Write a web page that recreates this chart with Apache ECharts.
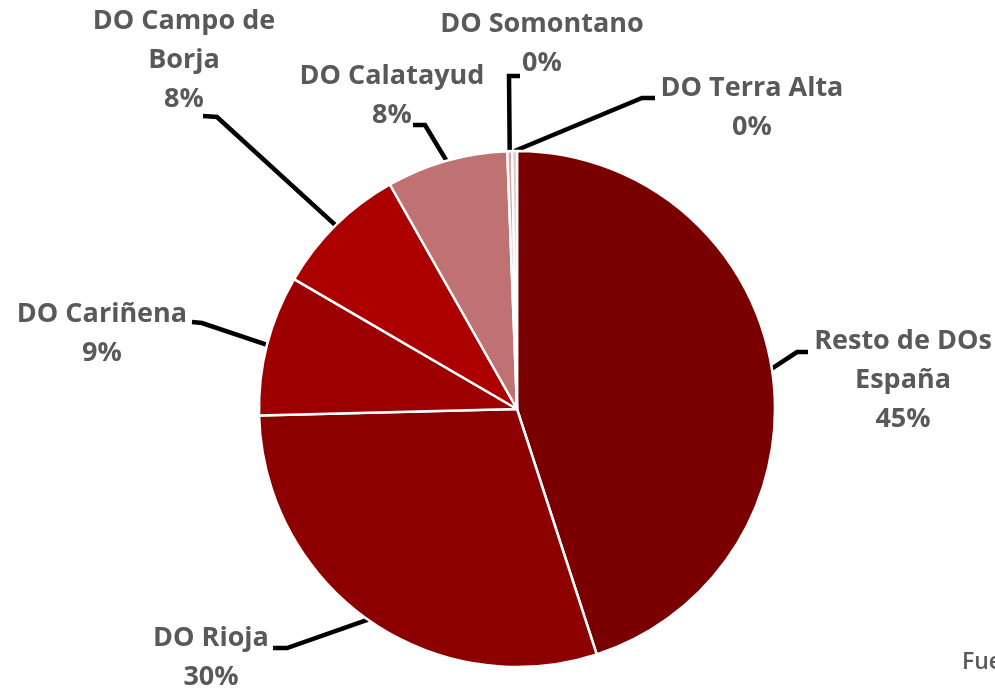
<!DOCTYPE html>
<html>
<head>
<meta charset="utf-8">
<script src="https://cdn.jsdelivr.net/npm/echarts@6/dist/echarts.min.js"></script>
<style>
  html, body { margin: 0; padding: 0; background: #fff; }
  #main { width: 995px; height: 693px; }
</style>
</head>
<body>
<div id="main"></div>
<script>
var categories = ['Resto de DOs\nEspaña', 'DO Rioja', 'DO Cariñena', 'DO Campo de\nBorja', 'DO Calatayud', 'DO Somontano', 'DO Terra Alta'];
var shares = [45.0, 29.6, 8.8, 8.4, 7.6, 0.3, 0.3];
var colors = ['#7a0000', '#8c0000', '#9c0000', '#ac0000', '#c07272', '#d9a3a3', '#e8c4c4'];

// where each label sits (centre x, top y) and the elbow + end of its leader
var labelSpots = [
  { x: 903, y: 322, line: [[797, 352], [808, 352]] },
  { x: 211, y: 619, line: [[287, 648], [273, 648]] },
  { x: 102, y: 295, line: [[202, 323], [192, 322]] },
  { x: 184, y: 2,   line: [[217, 117], [203, 116]] },
  { x: 392, y: 57,  line: [[425, 125], [413, 125]] },
  { x: 542, y: 5,   line: [[509, 76], [520, 76]] },
  { x: 752, y: 69,  line: [[642, 98], [655, 98]] }
];

var chart = echarts.init(document.getElementById('main'));

var pieData = categories.map(function (name, i) {
  return { name: name, value: shares[i], itemStyle: { color: colors[i] } };
});

var option = {
  animation: false,
  backgroundColor: '#fff',
  graphic: [{
    type: 'text',
    left: 962,
    top: 651,
    style: {
      text: 'Fuente: elaboración propia',
      fill: '#595959',
      font: '600 23px "Open Sans"'
    }
  }],
  series: [{
    type: 'pie',
    center: [517, 409],
    radius: 258,
    startAngle: 90,
    clockwise: true,
    avoidLabelOverlap: false,
    data: pieData,
    itemStyle: {
      borderColor: '#fff',
      borderWidth: 2.5
    },
    label: {
      show: true,
      position: 'outside',
      formatter: function (p) {
        return p.name + '\n' + Math.round(p.percent) + '%';
      },
      color: '#595959',
      fontFamily: 'Open Sans',
      fontWeight: 'bold',
      fontSize: 27,
      lineHeight: 39,
      align: 'center'
    },
    labelLine: {
      show: true,
      smooth: false,
      lineStyle: { color: '#000', width: 4.5 }
    },
    labelLayout: function (params) {
      var s = labelSpots[params.dataIndex];
      var out = { x: s.x, y: s.y, align: 'center', verticalAlign: 'top' };
      if (params.labelLinePoints) {
        out.labelLinePoints = [params.labelLinePoints[0], s.line[0], s.line[1]];
      }
      return out;
    },
    emphasis: { disabled: true }
  }]
};

chart.setOption(option);
</script>
</body>
</html>
